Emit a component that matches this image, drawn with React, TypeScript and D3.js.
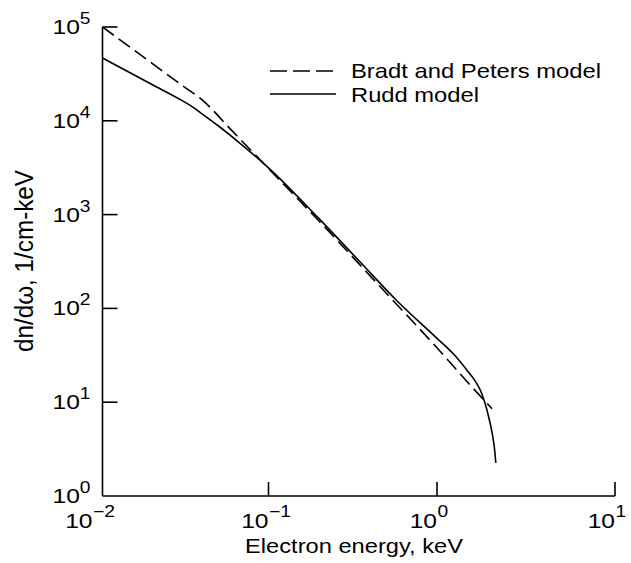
import React from "react";
import * as d3 from "d3";

const bradtE = [0.01, 0.02, 0.03, 0.04, 0.06, 0.1, 0.2, 0.5, 1, 1.5, 2.04];
const bradtN = [100000, 40700, 24000, 16600, 7900, 3100, 850, 145, 38, 16, 8.5];

const ruddE = [0.01, 0.02, 0.03, 0.035, 0.04, 0.05, 0.07, 0.1, 0.2, 0.35, 0.58, 1, 1.25, 1.5, 1.65, 1.75, 1.86, 1.95, 2.04, 2.1, 2.14];
const ruddN = [46700, 24200, 16500, 14000, 11800, 8800, 5450, 3150, 900, 312, 120, 48, 32, 21, 16.5, 13.5, 9.8, 7, 4.7, 3.3, 2.25];

const xTickExp = [-2, -1, 0, 1];
const yTickExp = [0, 1, 2, 3, 4, 5];
const legendLabels = ["Bradt and Peters model", "Rudd model"];
const xLabel = "Electron energy, keV";
const yLabel = "dn/d\u03c9, 1/cm-keV";

const W = 631;
const H = 563;
const FONT = "'Liberation Sans', Arial, Helvetica, sans-serif";

export default function App() {
  const x = d3.scaleLog().domain([0.01, 0.1, 1, 10]).range([102.5, 268.5, 437, 615]);
  const y = d3.scaleLog().domain([1, 1e5]).range([496, 27]);

  const smooth = d3
    .line<[number, number]>()
    .x((d) => x(d[0]))
    .y((d) => y(d[1]))
    .curve(d3.curveMonotoneX);

  const bradt = smooth(bradtE.map((e, i) => [e, bradtN[i]] as [number, number])) || "";
  const rudd = smooth(ruddE.map((e, i) => [e, ruddN[i]] as [number, number])) || "";

  const sw = 1.6;
  const x0 = x(0.01);
  const y0 = y(1);

  return (
    <svg
      width={W}
      height={H}
      style={{ position: "absolute", left: 0, top: 0, background: "#fff" }}
      fontFamily={FONT}
    >
      {/* axes */}
      <line x1={x0} y1={y(1e5)} x2={x0} y2={y0} stroke="#000" strokeWidth={sw} />
      <line x1={x0} y1={y0} x2={x(10)} y2={y0} stroke="#000" strokeWidth={sw} />
      {yTickExp.map((e) =>
        e > 0 ? (
          <line key={"yt" + e} x1={x0} x2={x0 + 15} y1={y(10 ** e)} y2={y(10 ** e)} stroke="#000" strokeWidth={sw} />
        ) : null
      )}
      {xTickExp.map((e) =>
        e > -2 ? (
          <line key={"xt" + e} x1={x(10 ** e)} x2={x(10 ** e)} y1={y0} y2={y0 - 14} stroke="#000" strokeWidth={sw} />
        ) : null
      )}

      {/* y tick labels */}
      {yTickExp.map((e) => (
        <g key={"yl" + e} transform={`translate(${x0 - 12},${y(10 ** e) + 7}) scale(1.2,1)`}>
          <text textAnchor="end" fontSize={20.5} fill="#000">
            10
            <tspan fontSize={16} dy={-10}>{e}</tspan>
          </text>
        </g>
      ))}

      {/* x tick labels */}
      {xTickExp.map((e, i) => (
        <g key={"xl" + e} transform={`translate(${x(10 ** e) - (i === 0 ? 10 : 0)},${527.5}) scale(1.2,1)`}>
          <text textAnchor="end" fontSize={20.5} fill="#000">10</text>
          <text x={0.5} y={-10.5} fontSize={16} fill="#000">{e < 0 ? "\u2212" + Math.abs(e) : String(e)}</text>
        </g>
      ))}

      {/* axis labels */}
      <text x={245} y={553} fontSize={19.5} textLength={218} lengthAdjust="spacingAndGlyphs" fill="#000">
        {xLabel}
      </text>
      <g transform="translate(33,352) scale(1.2,1) rotate(-90)">
        <text x={0} y={0} fontSize={21} textLength={182} lengthAdjust="spacingAndGlyphs" fill="#000">
          {yLabel}
        </text>
      </g>

      {/* curves */}
      <path d={bradt} fill="none" stroke="#000" strokeWidth={sw} strokeDasharray="14,6" />
      <path d={rudd} fill="none" stroke="#000" strokeWidth={sw} strokeLinejoin="round" />

      {/* legend */}
      <line x1={270} x2={336} y1={71} y2={71} stroke="#000" strokeWidth={sw} strokeDasharray="17,6" />
      <line x1={270} x2={336} y1={94} y2={94} stroke="#000" strokeWidth={sw} />
      <text x={351} y={78} fontSize={21} textLength={250} lengthAdjust="spacingAndGlyphs" fill="#000">
        {legendLabels[0]}
      </text>
      <text x={351} y={101.5} fontSize={21} textLength={128} lengthAdjust="spacingAndGlyphs" fill="#000">
        {legendLabels[1]}
      </text>
    </svg>
  );
}
